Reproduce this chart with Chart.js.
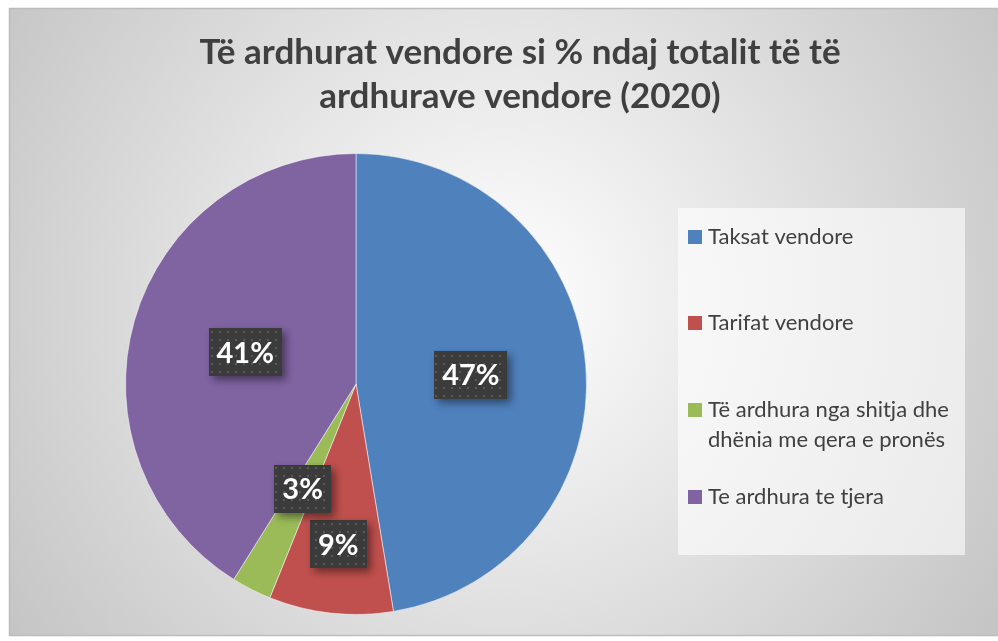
<!DOCTYPE html>
<html>
<head>
<meta charset="utf-8">
<script src="https://cdn.jsdelivr.net/npm/chart.js@4/dist/chart.umd.min.js"></script>
<style>
  html, body { margin: 0; padding: 0; background: #fff; }
  #wrap { width: 998px; height: 641px; }
</style>
</head>
<body>
<div id="wrap"><canvas id="pie" width="998" height="641"></canvas></div>
<script>
// ===== DATA =====
const categories = [
  "Taksat vendore",
  "Tarifat vendore",
  "Të ardhura nga shitja dhe dhënia me qera e pronës",
  "Te ardhura te tjera"
];
const shares = [47.4, 8.7, 2.8, 41.1];
const colors = ["#4F81BD", "#C0504D", "#9BBB59", "#8064A2"];
const titleLines = ["Të ardhurat vendore si % ndaj totalit të të", "ardhurave vendore (2020)"];

// ===== STYLE =====
const FONT = "Lato, 'Open Sans', sans-serif";
const TEXT = "#404040";
const labelRadius = [0.5, 0.7, 0.51, 0.5];   // fraction of radius where each % box sits
const legendRows = [237, 323, 410, 497];      // first-line y of each legend entry

// dotted fill used by the % boxes
function dotPattern(ctx) {
  const c = document.createElement("canvas");
  c.width = 8; c.height = 8;
  const p = c.getContext("2d");
  p.fillStyle = "#3b3b3b"; p.fillRect(0, 0, 8, 8);
  p.fillStyle = "#5a5a5a"; p.fillRect(3, 3, 2, 2);
  return ctx.createPattern(c, "repeat");
}

const frame = {
  id: "frame",
  beforeDraw(chart) {
    const ctx = chart.ctx;
    ctx.save();
    const g = ctx.createRadialGradient(500, 300, 0, 500, 300, 620);
    g.addColorStop(0, "#ffffff");
    g.addColorStop(1, "#c2c2c2");
    ctx.fillStyle = g;
    ctx.fillRect(9, 8, 989, 628);
    ctx.strokeStyle = "#bcbcbc"; ctx.lineWidth = 1.5;
    ctx.strokeRect(9.5, 8.5, 990, 627);

    // title
    ctx.fillStyle = TEXT;
    ctx.font = "bold 35px " + FONT;
    ctx.textAlign = "center"; ctx.textBaseline = "alphabetic";
    ctx.fillText(titleLines[0], 520, 64);
    ctx.fillText(titleLines[1], 520, 108);
    ctx.restore();
  },
  afterDraw(chart) {
    const ctx = chart.ctx;
    const meta = chart.getDatasetMeta(0);
    const pat = dotPattern(ctx);

    // % labels
    meta.data.forEach((arc, i) => {
      const mid = (arc.startAngle + arc.endAngle) / 2;
      const r = arc.outerRadius * labelRadius[i];
      const x = arc.x + Math.cos(mid) * r;
      const y = arc.y + Math.sin(mid) * r;
      const txt = Math.round(shares[i]) + "%";
      ctx.save();
      ctx.font = "bold 29px " + FONT;
      const w = ctx.measureText(txt).width + 16, h = 48;
      ctx.shadowColor = "rgba(0,0,0,0.45)";
      ctx.shadowBlur = 8; ctx.shadowOffsetX = 4; ctx.shadowOffsetY = 4;
      ctx.fillStyle = pat;
      ctx.fillRect(Math.round(x - w / 2), Math.round(y - h / 2), Math.round(w), h);
      ctx.shadowColor = "transparent";
      ctx.fillStyle = "#ffffff";
      ctx.textAlign = "center"; ctx.textBaseline = "middle";
      ctx.fillText(txt, x, y + 1);
      ctx.restore();
    });

    // legend
    ctx.save();
    ctx.fillStyle = "rgba(255,255,255,0.6)";
    ctx.fillRect(678, 208, 287, 347);
    ctx.font = "22px " + FONT;
    ctx.textAlign = "left"; ctx.textBaseline = "middle";
    chart.data.labels.forEach((lab, i) => {
      const y = legendRows[i];
      ctx.fillStyle = colors[i];
      ctx.fillRect(688, y - 7, 14, 14);
      ctx.fillStyle = TEXT;
      const words = lab.split(" ");
      let line = "", lines = [];
      words.forEach(wd => {
        const t = line ? line + " " + wd : wd;
        if (ctx.measureText(t).width > 265 && line) { lines.push(line); line = wd; }
        else line = t;
      });
      lines.push(line);
      lines.forEach((l, k) => ctx.fillText(l, 708, y + k * 30));
    });
    ctx.restore();
  }
};

new Chart(document.getElementById("pie"), {
  type: "pie",
  data: {
    labels: categories,
    datasets: [{
      data: shares,
      backgroundColor: colors,
      borderColor: "rgba(255,255,255,0.5)",
      borderWidth: 1
    }]
  },
  options: {
    responsive: false,
    animation: false,
    layout: { padding: { left: 125, top: 153, right: 411, bottom: 26 } },
    plugins: {
      legend: { display: false },
      title: { display: false },
      tooltip: { enabled: false }
    }
  },
  plugins: [frame]
});
</script>
</body>
</html>
